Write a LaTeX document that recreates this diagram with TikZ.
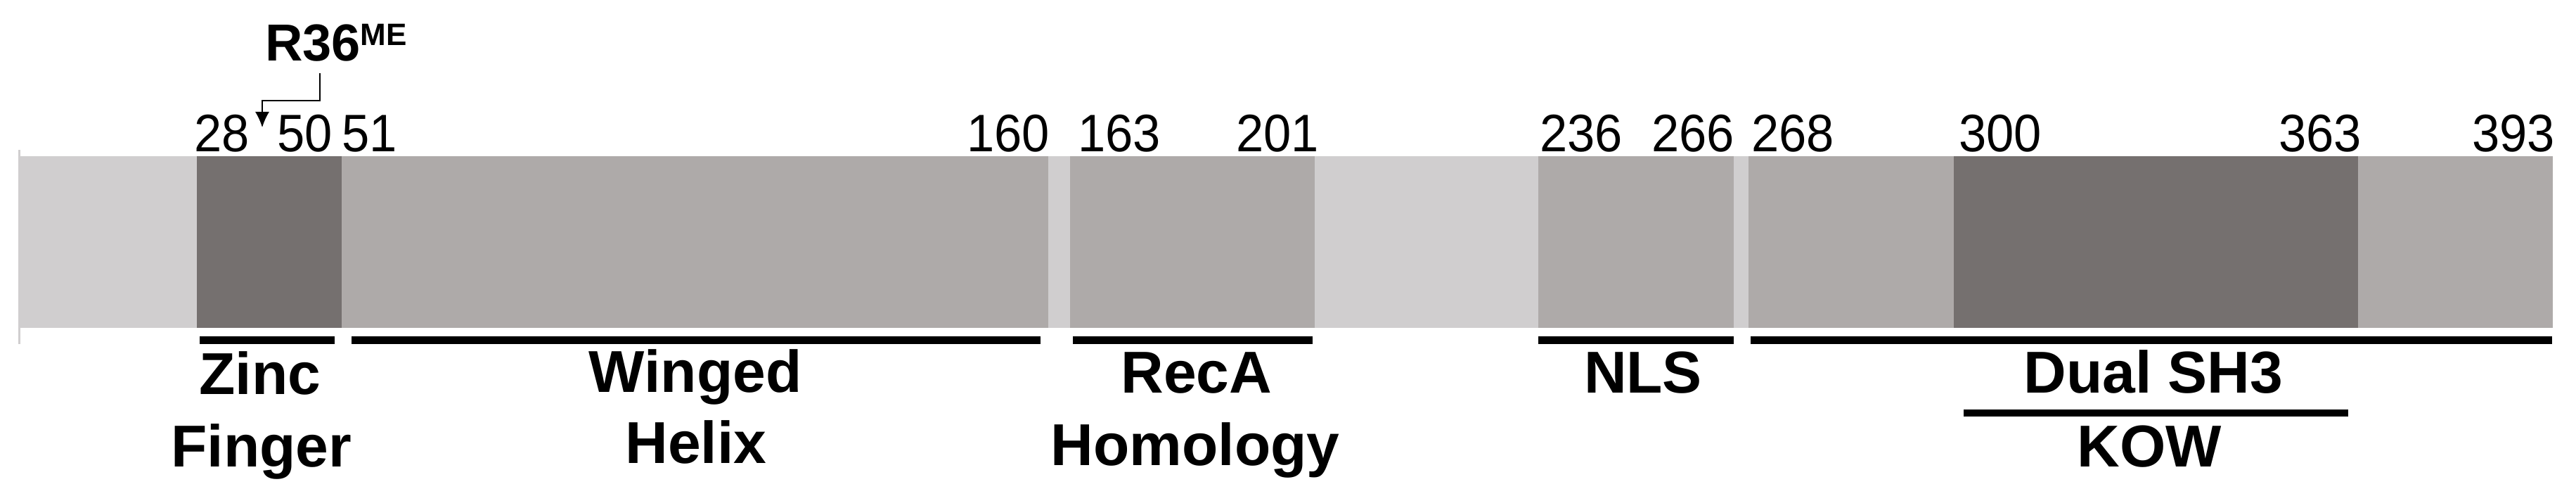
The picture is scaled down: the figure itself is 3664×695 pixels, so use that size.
\documentclass[tikz,border=0pt]{standalone}
\usepackage{fontspec}
\setmainfont{Liberation Sans}
\newfontfamily\numfont[FakeStretch=0.94]{Liberation Sans}
\usetikzlibrary{arrows.meta}
\definecolor{lightg}{RGB}{208,206,207}
\definecolor{midg}{RGB}{174,170,169}
\definecolor{darkg}{RGB}{117,112,111}
\begin{document}
\begin{tikzpicture}[x=0.5pt,y=-0.5pt,
  num/.style={inner sep=0,outer sep=0,anchor=base,font=\numfont\fontsize{37.5}{40}\selectfont},
  lbl/.style={inner sep=0,outer sep=0,anchor=base,font=\bfseries\fontsize{42}{48}\selectfont},
  uline/.style={line width=5.5pt},
  segm/.style={fill=midg},
  segd/.style={fill=darkg}]
\useasboundingbox (0,0) rectangle (3664,695);
\fill[white] (0,0) rectangle (3664,695);
% bar
\draw[lightg,line width=1.5pt] (27,213) -- (27,489);
\fill[lightg] (28,222) rectangle (3631,466);
\fill[segd] (280,222) rectangle (486,466);
\fill[segm] (486,222) rectangle (1491,466);
\fill[segm] (1522,222) rectangle (1870,466);
\fill[segm] (2188,222) rectangle (2466,466);
\fill[segm] (2487,222) rectangle (2779,466);
\fill[segd] (2779,222) rectangle (3354,466);
\fill[segm] (3354,222) rectangle (3631,466);
% numbers
\node[num] (n28) at (316,216) {28};
\node[num] (n50) at (434,216) {50};
\node[num] (n51) at (526,216) {51};
\node[num] (n160) at (1434,216) {160};
\node[num] (n163) at (1592,216) {163};
\node[num] (n201) at (1817,216) {201};
\node[num] (n236) at (2249,216) {236};
\node[num] (n266) at (2408,216) {266};
\node[num] (n268) at (2550,216) {268};
\node[num] (n300) at (2845,216) {300};
\node[num] (n363) at (3300,216) {363};
\node[num] (n393) at (3575,216) {393};
% R36 methylation
\node[anchor=base west,inner sep=0,outer sep=0,font=\bfseries\fontsize{37}{40}\selectfont] (r36) at (377,87)
  {R36\raisebox{11.25pt}{\fontsize{22}{24}\selectfont ME}};
\coordinate (ra) at (455,104);
\coordinate (rb) at (373,181);
\draw[line width=0.8pt,-{Latex[length=11pt,width=10pt]}] (ra) -- ++(0,39) -| (rb);
% underlines
\draw[uline] (284,483.5) -- (476,483.5);
\draw[uline] (500,483.5) -- (1480,483.5);
\draw[uline] (1526,483.5) -- (1867,483.5);
\draw[uline] (2188,483.5) -- (2466,483.5);
\draw[uline] (2490,483.5) -- (3630,483.5);
\draw[line width=5pt] (2793,587) -- (3340,587);
% labels
\node[lbl] (zinc) at (370,560) {Zinc};
\node[lbl] (finger) at (372,663) {Finger};
\node[lbl] (winged) at (989,557) {Winged};
\node[lbl] (helix) at (990,658) {Helix};
\node[lbl] (reca) at (1702,558) {RecA};
\node[lbl] (homol) at (1700,661) {Homology};
\node[lbl] (nls) at (2337,558) {NLS};
\node[lbl] (dual) at (3063,558) {Dual SH3};
\node[lbl] (kow) at (3057,663) {KOW};
\end{tikzpicture}
\end{document}
